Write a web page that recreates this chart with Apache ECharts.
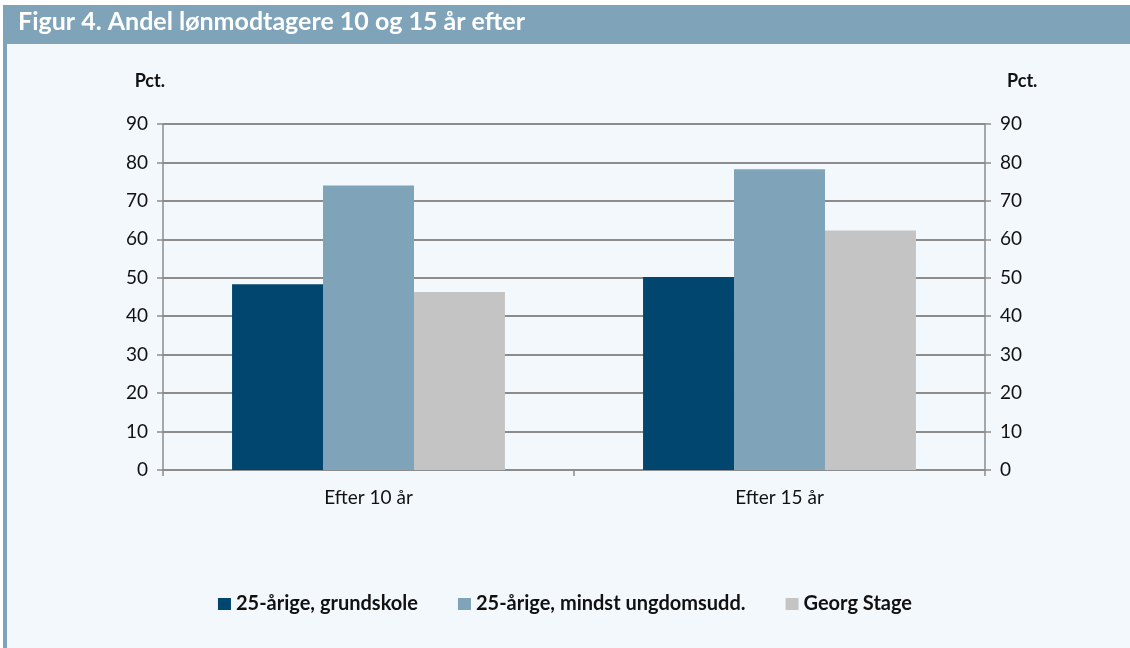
<!DOCTYPE html>
<html>
<head>
<meta charset="utf-8">
<title>Figur 4</title>
<script src="https://cdn.jsdelivr.net/npm/echarts@6/dist/echarts.min.js"></script>
<style>
  html, body { margin: 0; padding: 0; background: #ffffff; }
  #chart { width: 1130px; height: 648px; }
</style>
</head>
<body>
<div id="chart"></div>
<script>
// data
var categories = ['Efter 10 år', 'Efter 15 år'];
var grundskole = [48.3, 50.2];
var ungdomsudd = [74.0, 78.2];
var georgStage = [46.3, 62.3];
var seriesNames = ['25-årige, grundskole', '25-årige, mindst ungdomsudd.', 'Georg Stage'];
var yTicks = [0, 10, 20, 30, 40, 50, 60, 70, 80, 90];

var titleText = 'Figur 4. Andel lønmodtagere 10 og 15 år efter';
var font = 'Lato, "Noto Sans", sans-serif';
var headColor = '#7fa3b8';
var axisGrey = '#8c8c8c';

var chart = echarts.init(document.getElementById('chart'));

function yAxis(pos) {
  return {
    type: 'value',
    position: pos,
    min: yTicks[0],
    max: yTicks[yTicks.length - 1],
    interval: 10,
    name: 'Pct.',
    nameLocation: 'end',
    nameGap: 34,
    nameTextStyle: {
      color: '#111',
      fontFamily: font,
      fontWeight: 'bold',
      fontSize: 18,
      align: pos === 'left' ? 'right' : 'left',
      padding: pos === 'left' ? [0, -2, 0, 0] : [0, 0, 0, 22]
    },
    axisLine: { show: true, lineStyle: { color: axisGrey, width: 1.5 } },
    axisTick: { show: true, length: 6, lineStyle: { color: axisGrey, width: 1.5 } },
    axisLabel: { color: '#111', fontFamily: font, fontSize: 19, margin: 15 },
    splitLine: { show: pos === 'left', lineStyle: { color: axisGrey, width: 2 } }
  };
}

var option = {
  backgroundColor: '#ffffff',
  animation: false,
  graphic: [
    // panel background
    { type: 'rect', shape: { x: 3, y: 44, width: 1127, height: 604 }, style: { fill: '#f3f8fd' }, silent: true, z: -10 },
    // header band
    { type: 'rect', shape: { x: 3, y: 5, width: 1127, height: 39 }, style: { fill: headColor }, silent: true, z: -9 },
    // left border
    { type: 'rect', shape: { x: 3, y: 44, width: 4, height: 604 }, style: { fill: headColor }, silent: true, z: -9 },
    {
      type: 'text', left: 18, top: 9,
      style: { text: titleText, fill: '#ffffff', font: 'bold 25px ' + font }
    }
  ],
  color: ['#00466e', '#7fa3b8', '#c4c4c4'],
  legend: {
    data: seriesNames,
    bottom: 29,
    left: 'center',
    itemWidth: 13,
    itemHeight: 12,
    itemGap: 40,
    icon: 'rect',
    textStyle: { color: '#111', fontFamily: font, fontWeight: 'bold', fontSize: 20 }
  },
  grid: { left: 163, right: 145, top: 124, bottom: 178, containLabel: false },
  xAxis: {
    type: 'category',
    data: categories,
    axisLine: { lineStyle: { color: axisGrey, width: 2 } },
    axisTick: { show: true, length: 6, lineStyle: { color: axisGrey, width: 1.5 } },
    axisLabel: { color: '#111', fontFamily: font, fontSize: 19, margin: 18 }
  },
  yAxis: [yAxis('left'), yAxis('right')],
  series: [
    { name: seriesNames[0], type: 'bar', data: grundskole, barGap: 0, barCategoryGap: '33.6%' },
    { name: seriesNames[1], type: 'bar', data: ungdomsudd, barGap: 0, barCategoryGap: '33.6%' },
    { name: seriesNames[2], type: 'bar', data: georgStage, barGap: 0, barCategoryGap: '33.6%' }
  ]
};

chart.setOption(option);
</script>
</body>
</html>
